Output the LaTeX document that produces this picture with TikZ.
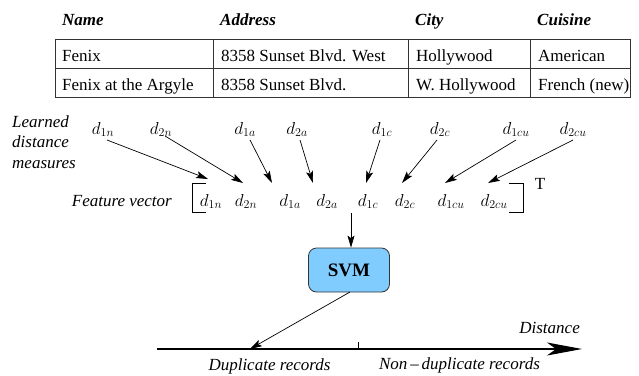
\documentclass[tikz,border=0pt]{standalone}
\usepackage{fontspec}
\setmainfont{Liberation Serif}
\usetikzlibrary{arrows.meta}
\begin{document}
\begin{tikzpicture}[x=1pt,y=-1pt,
  txt/.style={inner sep=0pt,font=\fontsize{17}{20.5}\selectfont},
  hdr/.style={txt,anchor=base west,font=\fontsize{17}{20.5}\selectfont\bfseries\itshape},
  cell/.style={txt,anchor=base west},
  lab/.style={txt,font=\fontsize{17}{20.5}\selectfont\itshape},
  dv/.style={txt,anchor=base},
  grid/.style={line width=0.9pt,draw=black!80},
  arr/.style={-{Stealth[length=12pt,width=7pt,inset=2.5pt]},line width=0.7pt},
  svmbox/.style={draw=black!80,line width=0.8pt,fill=svmblue,rounded corners=8pt}
]
\definecolor{svmblue}{HTML}{80CCFF}
\useasboundingbox (0,0) rectangle (639,375);

% table
\draw[grid] (55,39) rectangle (630,97);
\draw[grid] (55,68) -- (630,68);
\draw[grid] (213,39) -- (213,97);
\draw[grid] (408,39) -- (408,97);
\draw[grid] (530,39) -- (530,97);
\node[hdr] (hName) at (62,25) {Name};
\node[hdr] (hAddr) at (220,25) {Address};
\node[hdr] (hCity) at (415,25) {City};
\node[hdr] (hCuis) at (537,25) {Cuisine};
\node[cell] (r1a) at (62,61) {Fenix};
\node[cell] (r1b) at (221,61) {8358 Sunset Blvd. West};
\node[cell] (r1c) at (416,61) {Hollywood};
\node[cell] (r1d) at (538,61) {American};
\node[cell] (r2a) at (62,90) {Fenix at the Argyle};
\node[cell] (r2b) at (221,90) {8358 Sunset Blvd.};
\node[cell] (r2c) at (416,90) {W. Hollywood};
\node[cell] (r2d) at (538,90) {French (new)};

% learned distance measures
\node[lab,anchor=base west] (l1) at (12,127) {Learned};
\node[lab,anchor=base west] (l2) at (12,147) {distance};
\node[lab,anchor=base west] (l3) at (12,168) {measures};

% top d's
\node[dv] (u1n) at (103,134) {$d_{1n}$};
\node[dv] (u2n) at (161,134) {$d_{2n}$};
\node[dv] (u1a) at (245,134) {$d_{1a}$};
\node[dv] (u2a) at (297,134) {$d_{2a}$};
\node[dv] (u1c) at (382,134) {$d_{1c}$};
\node[dv] (u2c) at (440,134) {$d_{2c}$};
\node[dv] (u1cu) at (516,134) {$d_{1cu}$};
\node[dv] (u2cu) at (573,134) {$d_{2cu}$};

% feature vector
\node[lab,anchor=base east] (fv) at (172,206) {Feature vector};
\node[dv] (v1n) at (211,206) {$d_{1n}$};
\node[dv] (v2n) at (246,206) {$d_{2n}$};
\node[dv] (v1a) at (290,206) {$d_{1a}$};
\node[dv] (v2a) at (327,206) {$d_{2a}$};
\node[dv] (v1c) at (368,206) {$d_{1c}$};
\node[dv] (v2c) at (405,206) {$d_{2c}$};
\node[dv] (v1cu) at (451,206) {$d_{1cu}$};
\node[dv] (v2cu) at (494,206) {$d_{2cu}$};
\draw[line width=0.8pt] (206,183) -- (192,183) -- (192,212) -- (206,212);
\draw[line width=0.8pt] (509,183) -- (523,183) -- (523,212) -- (509,212);
\node[txt,anchor=base] (T) at (540,189) {T};

% arrow end points
\coordinate (s1) at (107,140); \coordinate (e1) at (208,179);
\coordinate (s2) at (165,136); \coordinate (e2) at (243,183);
\coordinate (s3) at (250,140); \coordinate (e3) at (272,183);
\coordinate (s4) at (300,140); \coordinate (e4) at (313,183);
\coordinate (s5) at (380,140); \coordinate (e5) at (366,183);
\coordinate (s6) at (437,140); \coordinate (e6) at (402,183);
\coordinate (s7) at (516,140); \coordinate (e7) at (445,183);
\coordinate (s8) at (573,140); \coordinate (e8) at (488,183);
\foreach \i in {1,...,8} {\draw[arr] (s\i) -- (e\i);}

% SVM
\node[svmbox,minimum width=81pt,minimum height=44pt,inner sep=0pt,
      font=\fontsize{19}{22}\selectfont\bfseries] (svm) at (349,270) {SVM};
\coordinate (fvb) at (351,213);
\draw[arr] (fvb) -- (fvb |- svm.north);

% axis
\coordinate (ax0) at (157,349);
\coordinate (ax1) at (582,349);
\coordinate (dup) at (250,349);
\draw[line width=1.1pt,-{Stealth[length=35pt,width=13pt,inset=9pt]}] (ax0) -- (ax1);
\coordinate (tk) at (358,342);
\draw[line width=0.7pt] (tk) -- (tk |- ax0);
\draw[arr] (350,292) -- (dup);
\node[lab,anchor=base east] (dist) at (580,333) {Distance};
\node[lab,anchor=base] (dupl) at (269.5,370) {Duplicate records};
\node[lab,anchor=base] (ndup) at (459.5,369) {Non\,\textendash\,duplicate records};
\end{tikzpicture}
\end{document}
